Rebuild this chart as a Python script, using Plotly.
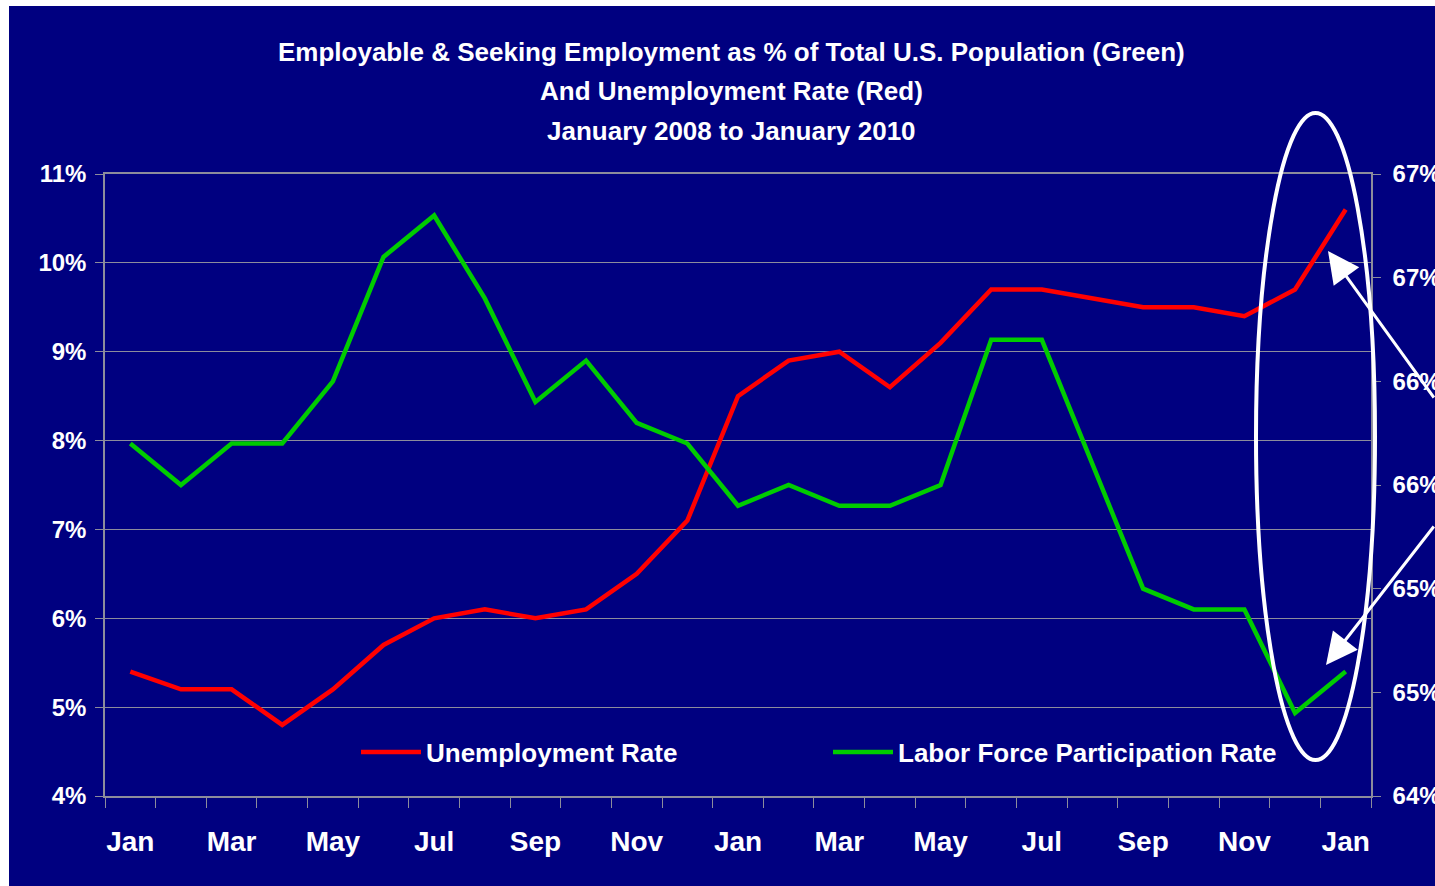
import plotly.graph_objects as go

# ---- data ----
months = ["Jan", "Feb", "Mar", "Apr", "May", "Jun", "Jul", "Aug", "Sep", "Oct", "Nov", "Dec",
          "Jan", "Feb", "Mar", "Apr", "May", "Jun", "Jul", "Aug", "Sep", "Oct", "Nov", "Dec",
          "Jan"]
unemployment = [5.4, 5.2, 5.2, 4.8, 5.2, 5.7, 6.0, 6.1, 6.0, 6.1, 6.5, 7.1,
                8.5, 8.9, 9.0, 8.6, 9.1, 9.7, 9.7, 9.6, 9.5, 9.5, 9.4, 9.7,
                10.6]
participation = [65.7, 65.5, 65.7, 65.7, 66.0, 66.6, 66.8, 66.4, 65.9, 66.1, 65.8, 65.7,
                 65.4, 65.5, 65.4, 65.4, 65.5, 66.2, 66.2, 65.6, 65.0, 64.9, 64.9, 64.4,
                 64.6]
left_ticks = [4, 5, 6, 7, 8, 9, 10, 11]
right_tickvals = [64.0, 64.5, 65.0, 65.5, 66.0, 66.5, 67.0]
right_ticktext = ["64%", "65%", "65%", "66%", "66%", "67%", "67%"]
title_lines = ["Employable &amp; Seeking Employment as % of Total U.S. Population (Green)",
               "And Unemployment Rate (Red)",
               "January 2008 to January 2010"]

idx = list(range(len(months)))
label_idx = idx[::2]
label_text = months[::2]
boundaries = [i - 0.5 for i in range(len(months) + 1)]

W, H = 1435, 886
L, R, T, B = 105, 64, 174, 90
PW, PH = W - L - R, H - T - B


def px(xp):
    return (xp - L) / PW


def py(yp):
    return (H - B - yp) / PH


NAVY = "#000080"
GRID = "#8c8c9c"
FONT = "Arial, Liberation Sans, sans-serif"

fig = go.Figure()
fig.add_trace(go.Scatter(x=idx, y=unemployment, mode="lines", name="Unemployment Rate",
                         line=dict(color="#FF0000", width=4.5), legend="legend"))
fig.add_trace(go.Scatter(x=idx, y=participation, mode="lines", name="Labor Force Participation Rate",
                         line=dict(color="#00CC00", width=4.5), yaxis="y2", legend="legend2"))

fig.update_layout(
    width=W, height=H,
    margin=dict(l=L, r=R, t=T, b=B, pad=0, autoexpand=False),
    paper_bgcolor="white",
    plot_bgcolor=NAVY,
    font=dict(family=FONT, color="white"),
    xaxis=dict(
        range=[-0.5, len(months) - 0.5], automargin=False,
        tickmode="array", tickvals=label_idx, ticktext=label_text,
        ticks="outside", ticklen=0, tickcolor=GRID,
        minor=dict(tickmode="array", tickvals=boundaries, ticks="outside", ticklen=10,
                   tickcolor=GRID, tickwidth=1, showgrid=False),
        showgrid=False, zeroline=False,
        showline=True, linecolor=GRID, linewidth=1.5, mirror=True,
        tickfont=dict(size=28, family=FONT, color="white", weight="bold"),
        ticklabelstandoff=20,
    ),
    yaxis=dict(
        range=[4, 11], automargin=False, tickmode="array", tickvals=left_ticks,
        ticktext=[f"{v}%" for v in left_ticks],
        ticks="outside", ticklen=8, tickcolor=GRID,
        showgrid=True, gridcolor=GRID, gridwidth=1, zeroline=False,
        showline=True, linecolor=GRID, linewidth=1.5,
        tickfont=dict(size=24, family=FONT, color="white", weight="bold"),
        ticklabelstandoff=4,
    ),
    yaxis2=dict(
        range=[64, 67], automargin=False, overlaying="y", side="right",
        tickmode="array", tickvals=right_tickvals, ticktext=right_ticktext,
        ticks="outside", ticklen=8, tickcolor=GRID,
        showgrid=False, zeroline=False,
        showline=True, linecolor=GRID, linewidth=1.5,
        tickfont=dict(size=24, family=FONT, color="white", weight="bold"),
        ticklabelstandoff=7,
    ),
    legend=dict(x=px(356), y=py(752), xanchor="left", yanchor="middle",
                bgcolor="rgba(0,0,0,0)", borderwidth=0, itemwidth=60,
                font=dict(size=26, family=FONT, color="white", weight="bold")),
    legend2=dict(x=px(828), y=py(752), xanchor="left", yanchor="middle",
                 bgcolor="rgba(0,0,0,0)", borderwidth=0, itemwidth=60,
                 font=dict(size=26, family=FONT, color="white", weight="bold")),
    showlegend=True,
)

# navy background panel (white strip on top and left like the original slide)
fig.add_shape(type="rect", xref="paper", yref="paper",
              x0=px(9), x1=px(W + 10), y0=py(H + 10), y1=py(6),
              fillcolor=NAVY, line=dict(width=0), layer="below")

# highlight ellipse
fig.add_shape(type="circle", xref="paper", yref="paper",
              x0=px(1256), x1=px(1375), y0=py(760), y1=py(113),
              line=dict(color="white", width=4), fillcolor="rgba(0,0,0,0)", layer="above")

# title lines
for text, yc in zip(title_lines, [52, 91, 131]):
    fig.add_annotation(text=text, xref="paper", yref="paper", x=px(731), y=py(yc),
                       xanchor="center", yanchor="middle", showarrow=False,
                       font=dict(size=26, family=FONT, color="white", weight="bold"))

# arrows
fig.add_annotation(text="", xref="paper", yref="paper", x=px(1328), y=py(251),
                   ax=150, ay=148, showarrow=True, arrowhead=2, arrowsize=2.1,
                   arrowwidth=3, arrowcolor="white")
fig.add_annotation(text="", xref="paper", yref="paper", x=px(1326), y=py(665),
                   ax=150, ay=-140, showarrow=True, arrowhead=2, arrowsize=2.1,
                   arrowwidth=3, arrowcolor="white")

fig.write_html("out.html")
